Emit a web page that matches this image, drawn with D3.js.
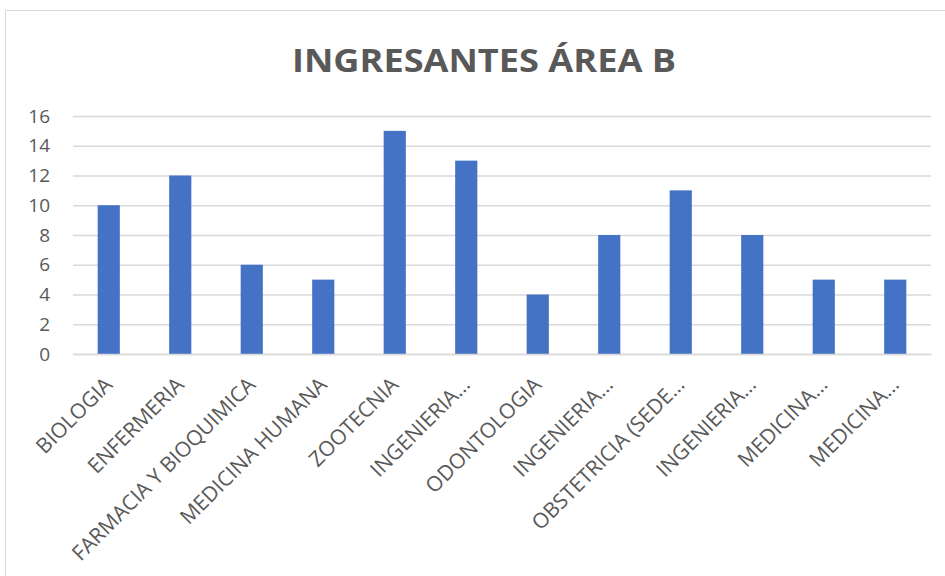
<!DOCTYPE html>
<html><head><meta charset="utf-8">
<script src="https://cdn.jsdelivr.net/npm/d3@7"></script>
<style>
html,body{margin:0;padding:0;background:#fff;}
text{font-family:"Open Sans",Lato,sans-serif;}
</style></head>
<body><svg id="c" width="945" height="576"></svg>
<script>
const categories = ["BIOLOGIA","ENFERMERIA","FARMACIA Y BIOQUIMICA","MEDICINA HUMANA","ZOOTECNIA","INGENIERIA…","ODONTOLOGIA","INGENIERIA…","OBSTETRICIA (SEDE…","INGENIERIA…","MEDICINA…","MEDICINA…"];
const values = [10,12,6,5,15,13,4,8,11,8,5,5];
const yTicks = [0,2,4,6,8,10,12,14,16];
const title = "INGRESANTES ÁREA B";

(function(){
const svg = d3.select("#c");
svg.append("rect").attr("x",5.5).attr("y",10.5).attr("width",960).attr("height",600)
  .attr("fill","#fff").attr("stroke","#d9d9d9").attr("stroke-width",1);

const mL = 73, mR = 931, mT = 116, mB = 354;
const x = d3.scaleBand().domain(d3.range(categories.length)).range([mL,mR]).paddingInner(0.69).paddingOuter(0.345);
const y = d3.scaleLinear().domain([0,16]).range([mB,mT]);

svg.append("text").attr("x",484).attr("y",72).attr("text-anchor","middle")
  .attr("font-size",33).attr("font-weight","bold").attr("fill","#595959")
  .attr("textLength",384).attr("lengthAdjust","spacingAndGlyphs").text(title);

const ya = svg.append("g").attr("transform",`translate(${mL},0)`)
  .call(d3.axisLeft(y).tickValues(yTicks).tickSize(-(mR-mL)).tickPadding(23));
ya.select(".domain").remove();
ya.selectAll(".tick line").attr("stroke","#d9d9d9").attr("stroke-width",1.5);
ya.selectAll(".tick text").attr("font-size",19).attr("fill","#595959").attr("font-family","Open Sans");

svg.append("g").selectAll("rect").data(values).join("rect")
  .attr("x",(d,i)=>x(i)).attr("width",x.bandwidth())
  .attr("y",d=>y(d)).attr("height",d=>y(0)-y(d)).attr("fill","#4472c4");

const xa = svg.append("g").attr("transform",`translate(0,${mB})`)
  .call(d3.axisBottom(x).tickFormat(i=>categories[i]).tickSize(0));
xa.select(".domain").attr("stroke","#d9d9d9").attr("stroke-width",1.5);
xa.selectAll(".tick text").attr("font-size",21).attr("fill","#595959").attr("font-family","Open Sans")
  .attr("text-anchor","end").attr("dy",0).attr("y",0)
  .attr("transform","translate(5,32) rotate(-45)");
})();
</script></body></html>
